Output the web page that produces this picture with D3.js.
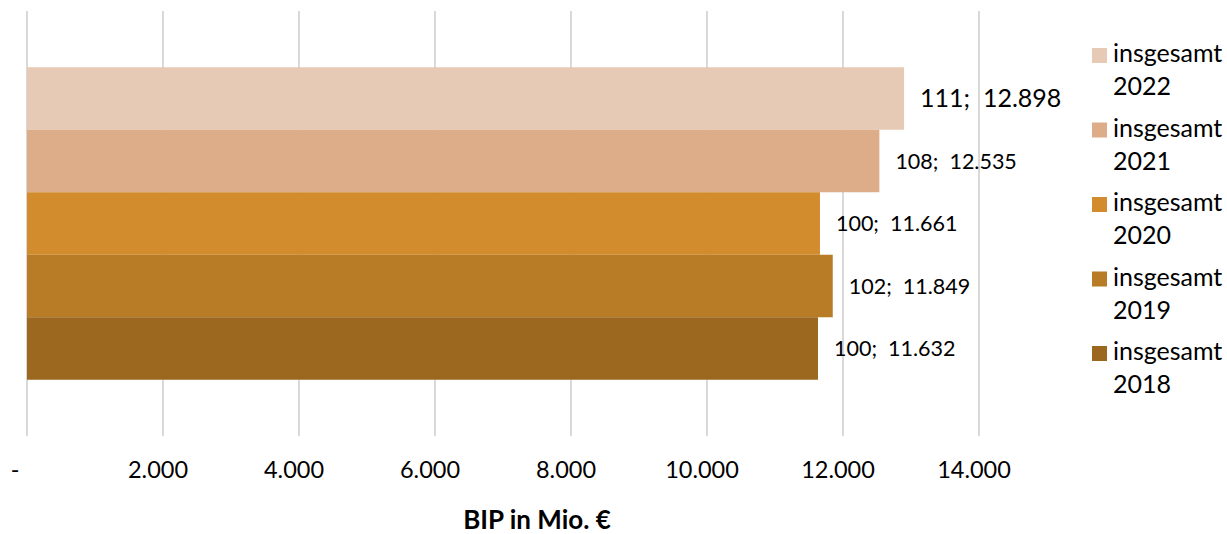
<!DOCTYPE html>
<meta charset="utf-8">
<style>
body {margin: 0; background: white;}
text {font-family: Lato, "Open Sans", sans-serif; fill: #000;}
.grid line {stroke: #d9d9d9; stroke-width: 2px;}
.tick-label {font-size: 23.5px;}
.bar-label {font-size: 21.5px; white-space: pre;}
.legend text {font-size: 25px;}
.axis-title {font-size: 26px; font-weight: bold;}
</style>
<body>
<script src="https://d3js.org/d3.v7.min.js"></script>
<script>
// data
var years = ["2022", "2021", "2020", "2019", "2018"]
var seriesNames = ["insgesamt 2022", "insgesamt 2021", "insgesamt 2020", "insgesamt 2019", "insgesamt 2018"]
var bipValues = [12898, 12535, 11661, 11849, 11632]
var indexValues = [111, 108, 100, 102, 100]
var xTicks = [0, 2000, 4000, 6000, 8000, 10000, 12000, 14000]
var colors = ["#e6cab5", "#ddad8a", "#d28b2d", "#b87b26", "#9c671f"]
var axisTitle = "BIP in Mio. €"

var width = 1227, height = 534
var de = d3.formatLocale({decimal: ",", thousands: ".", grouping: [3], currency: ["", " €"]})
var fmt = de.format(",.0f")

var x = d3.scaleLinear().domain([0, 14000]).range([27, 979])
var y = d3.scaleBand().domain(years).range([11, 436]).paddingOuter(0.9).paddingInner(0)

var svg = d3.select("body").append("svg")
  .attr("width", width).attr("height", height)

// gridlines
svg.append("g").attr("class", "grid")
  .selectAll("line").data(xTicks).enter().append("line")
  .attr("x1", d => x(d)).attr("x2", d => x(d))
  .attr("y1", 11).attr("y2", 436)

// tick labels (accounting style, zero shown as "-")
svg.append("g").selectAll("text").data(xTicks).enter().append("text")
  .attr("class", "tick-label")
  .attr("x", d => d === 0 ? x(d) - 12 : x(d) - 5)
  .attr("y", 470).attr("dy", "0.35em")
  .attr("text-anchor", "middle")
  .text(d => d === 0 ? "-" : fmt(d))

// bars
var rows = years.map((yr, i) => ({year: yr, value: bipValues[i], idx: indexValues[i], color: colors[i]}))
svg.append("g").selectAll("rect").data(rows).enter().append("rect")
  .attr("x", x(0)).attr("y", d => y(d.year))
  .attr("width", d => x(d.value) - x(0))
  .attr("height", y.bandwidth())
  .attr("fill", d => d.color)

svg.append("g").selectAll("text").data(rows).enter().append("text")
  .attr("class", "bar-label")
  .attr("x", d => x(d.value) + 16)
  .attr("y", d => y(d.year) + y.bandwidth() / 2)
  .attr("dy", "0.35em")
  .style("font-size", (d, i) => i === 0 ? "25px" : null)
  .text(d => d.idx + ";  " + fmt(d.value))

// legend
var legend = svg.append("g").attr("class", "legend")
  .selectAll("g").data(seriesNames).enter().append("g")
  .attr("transform", (d, i) => "translate(1092," + (48 + i * 74.5) + ")")
legend.append("rect")
  .attr("width", 15).attr("height", 15)
  .attr("fill", (d, i) => colors[i])
var lt = legend.append("text").attr("x", 21).attr("y", 14)
lt.append("tspan").attr("x", 21).text(d => d.split(" ")[0])
lt.append("tspan").attr("x", 21).attr("dy", 33).text(d => d.split(" ")[1])

// axis title
svg.append("text").attr("class", "axis-title")
  .attr("x", 537).attr("y", 529)
  .attr("text-anchor", "middle")
  .text(axisTitle)
</script>
